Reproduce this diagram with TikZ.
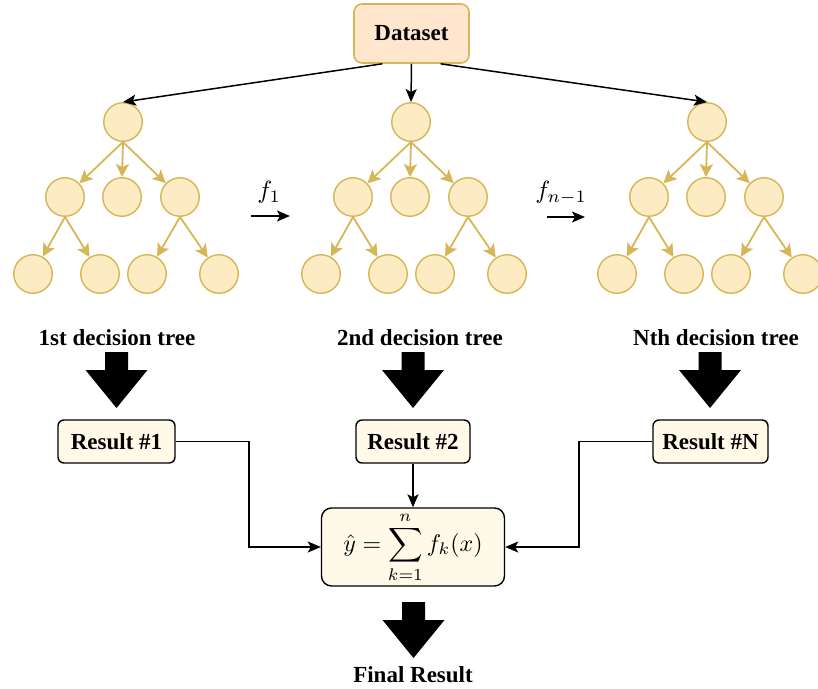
\documentclass[tikz,border=0pt]{standalone}
\usepackage{fontspec}
\setmainfont{Liberation Serif}
\usetikzlibrary{arrows.meta,calc}

\definecolor{nodefill}{HTML}{FDEBC3}
\definecolor{nodeline}{HTML}{D6B656}
\definecolor{datafill}{HTML}{FFE6CC}
\definecolor{resfill}{HTML}{FFFAE8}

\tikzset{
  tnode/.style={circle, draw=nodeline, fill=nodefill, line width=1.4pt,
                minimum size=38.5pt, inner sep=0pt},
  tedge/.style={draw=nodeline, line width=1.8pt,
                -{Stealth[length=13pt,width=13pt,inset=3pt]}},
  kedge/.style={draw=black, line width=1.5pt,
                -{Stealth[length=13pt,width=11pt,inset=3pt]}},
  bigfont/.style={font=\fontsize{23}{27}\selectfont\bfseries},
  btext/.style={bigfont, inner sep=0pt},
  mathtext/.style={inner sep=0pt, scale=2.5},
  resbox/.style={draw=black, fill=resfill, line width=1.4pt, rounded corners=6pt,
                 minimum height=43pt, inner sep=0pt, bigfont},
  fatarrow/.pic={
    \fill[black] (-11.5,0) -- (11.5,0) -- (11.5,18) -- (31,18) -- (0,56)
                 -- (-31,18) -- (-11.5,18) -- cycle;
  },
}

\begin{document}
\begin{tikzpicture}[x=1pt, y=-1pt]
\useasboundingbox (0,0) rectangle (818,688);

% data source
\node[draw=nodeline, fill=datafill, line width=1.6pt, rounded corners=8pt,
      minimum width=115pt, minimum height=59pt, inner sep=0pt, bigfont]
      (ds) at (411.5,33.5) {Dataset};

% one decision tree, shifted by #1 (pixels) and named with prefix #2
\newcommand{\drawtree}[2]{
  \node[tnode] (#2r)  at (123+#1,122) {};
  \node[tnode] (#2a)  at (65+#1,197)  {};
  \node[tnode] (#2b)  at (122+#1,197) {};
  \node[tnode] (#2c)  at (180+#1,197) {};
  \node[tnode] (#2a1) at (33+#1,274)  {};
  \node[tnode] (#2a2) at (100+#1,274) {};
  \node[tnode] (#2c1) at (147+#1,274) {};
  \node[tnode] (#2c2) at (219+#1,274) {};
  \draw[tedge] (#2r.south) -- (#2a);
  \draw[tedge] (#2r.south) -- (#2b.north);
  \draw[tedge] (#2r.south) -- (#2c);
  \draw[tedge] (#2a.south) -- (#2a1);
  \draw[tedge] (#2a.south) -- (#2a2);
  \draw[tedge] (#2c.south) -- (#2c1);
  \draw[tedge] (#2c.south) -- (#2c2);
}
\drawtree{0}{ta}
\drawtree{288}{tb}
\drawtree{584}{tc}

% dataset feeds every tree
\draw[kedge] ($(ds.south west)!0.25!(ds.south east)$) -- (tar.north);
\draw[kedge] (ds.south) -- (tbr.north);
\draw[kedge] ($(ds.south west)!0.75!(ds.south east)$) -- (tcr.north);

% boosting steps between trees
\node[mathtext] (f1) at (269,192) {$f_1$};
\coordinate (f1s) at (251,216);
\coordinate (f1e) at (290,216);
\draw[kedge] (f1s) -- (f1e);
\node[mathtext] (fn) at (561,193) {$f_{n-1}$};
\coordinate (fns) at (547,217);
\coordinate (fne) at (585,217);
\draw[kedge] (fns) -- (fne);

% tree captions
\node[btext, anchor=base] (la) at (117,345) {1st decision tree};
\node[btext, anchor=base] (lb) at (420,345) {2nd decision tree};
\node[btext, anchor=base] (lc) at (716,345) {Nth decision tree};

\pic at (116.5,352) {fatarrow};
\pic at (413,352) {fatarrow};
\pic at (710,352) {fatarrow};

% per-tree results
\node[resbox, minimum width=117pt] (ra) at (116.5,441.5) {Result \#1};
\node[resbox, minimum width=114pt] (rb) at (413,441.5) {Result \#2};
\node[resbox, minimum width=115pt] (rc) at (710.5,441.5) {Result \#N};

% aggregation
\node[draw=black, fill=resfill, line width=1.4pt, rounded corners=10pt,
      minimum width=183pt, minimum height=78pt, inner sep=0pt] (sum) at (413,547) {};
\node[mathtext, scale=0.96] (sumtxt) at (sum.center)
      {$\displaystyle \hat{y}=\sum_{k=1}^{n} f_k(x)$};

\coordinate (ja) at (249,441.5);
\coordinate (jc) at (579,441.5);
\draw[kedge] (ra.east) -- (ja) |- (sum.west);
\draw[kedge] (rb.south) -- (sum.north -| rb.south);
\draw[kedge] (rc.west) -- (jc) |- (sum.east);

\pic at (413.5,602) {fatarrow};
\node[btext, anchor=base] (fr) at (413,682) {Final Result};
\end{tikzpicture}
\end{document}
